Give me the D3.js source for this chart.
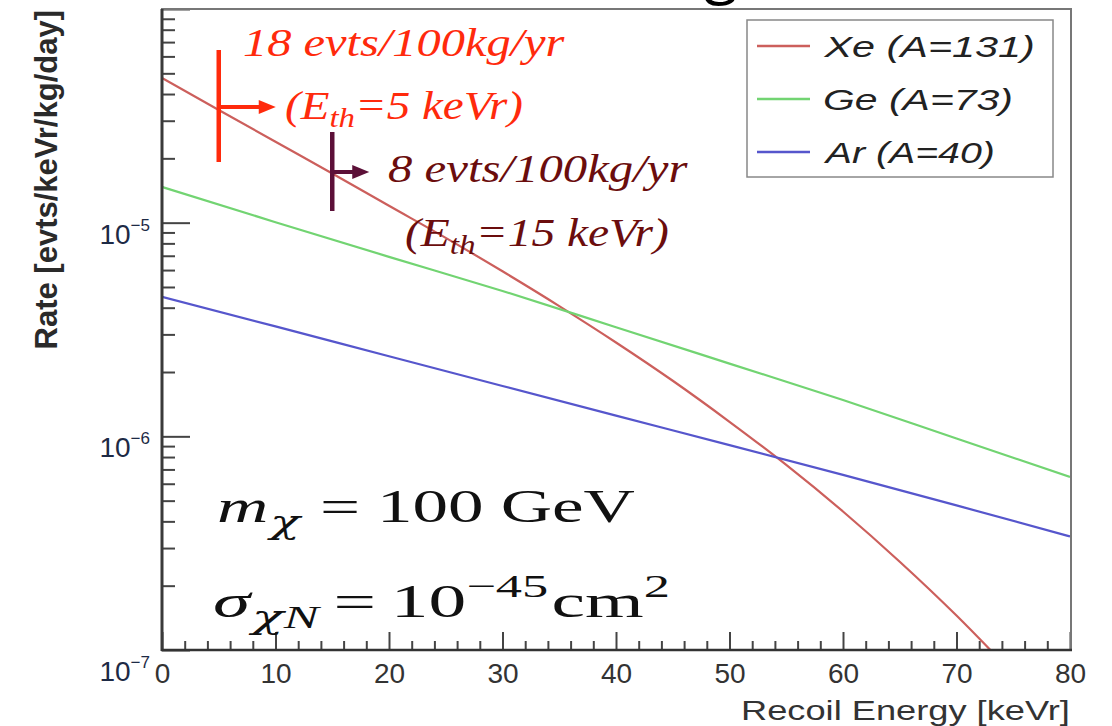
<!DOCTYPE html>
<html lang="en">
<head>
<meta charset="UTF-8">
<title>Recoil spectrum</title>
<script src="https://d3js.org/d3.v7.min.js"></script>
<style>
  body { margin: 0; background: #fff; }
  svg { display: block; }
</style>
</head>
<body>
<script>
// data
const xeEnergy = [0, 5, 10, 15, 20, 25, 30, 35, 40, 45, 50, 55, 60, 65, 70, 75];
const xeRate = [4.76e-5, 3.37e-5, 2.39e-5, 1.70e-5, 1.20e-5, 8.49e-6, 5.92e-6, 4.07e-6,
                2.75e-6, 1.82e-6, 1.17e-6, 7.35e-7, 4.45e-7, 2.59e-7, 1.45e-7, 7.74e-8];
const lightEnergy = [0, 10, 20, 30, 40, 50, 60, 70, 80];
const geRate = [1.47e-5, 1.005e-5, 6.92e-6, 4.79e-6, 3.24e-6, 2.19e-6, 1.48e-6, 9.77e-7, 6.46e-7];
const arRate = [4.5e-6, 3.27e-6, 2.37e-6, 1.72e-6, 1.25e-6, 9.1e-7, 6.6e-7, 4.75e-7, 3.4e-7];
const seriesNames = ["Xe (A=131)", "Ge (A=73)", "Ar (A=40)"];
const seriesColors = ["#cc5f5c", "#72d472", "#5656cc"];
const xTicks = [0, 10, 20, 30, 40, 50, 60, 70, 80];
const yDecades = [1e-7, 1e-6, 1e-5, 1e-4];
const yLabelExp = ["-7", "-6", "-5"];
const thresholds = [5, 15];

const W = 1112, H = 726;
const svg = d3.select("body").append("svg").attr("width", W).attr("height", H);
svg.append("rect").attr("width", W).attr("height", H).attr("fill", "#fff");

const x = d3.scaleLinear().domain([0, 80]).range([162, 1070]);
const y = d3.scaleLog().domain([1e-7, 1e-4]).range([650, 9]);

// stretch a text horizontally so its box runs from x0 over the given width
function fit(sel, x0, y0, width) {
  sel.attr("x", 0).attr("y", 0);
  const bb = sel.node().getBBox();
  const s = width / bb.width;
  sel.attr("transform", "translate(" + (x0 - bb.x * s) + "," + y0 + ") scale(" + s + ",1)");
}

// cut-off slide title above
svg.append("text").attr("x", 704).attr("y", -9)
  .style("font-family", "Open Sans").style("font-size", "62px").text("g");

svg.append("clipPath").attr("id", "plot")
  .append("rect").attr("x", 162).attr("y", 9).attr("width", 908).attr("height", 641);

// ticks
const minorX = d3.range(0, 81, 2).filter(d => d % 10 != 0);
const bottom = svg.append("g").attr("transform", "translate(0,650)");
bottom.call(d3.axisBottom(x).tickValues(minorX).tickSize(-9).tickFormat(""));
bottom.append("g").call(d3.axisBottom(x).tickValues(xTicks).tickSize(-18).tickPadding(13));
bottom.selectAll(".domain").remove();
bottom.selectAll("line").attr("stroke", "#444").attr("stroke-width", 2);
bottom.selectAll("text").attr("fill", "#333")
  .style("font-family", "Liberation Sans").style("font-size", "28px");

const minorY = [];
[1e-7, 1e-6, 1e-5].forEach(function (d) { for (let k = 2; k < 10; k++) minorY.push(d * k); });
const left = svg.append("g").attr("transform", "translate(162,0)");
left.call(d3.axisLeft(y).tickValues(minorY).tickSize(-13).tickFormat(""));
left.append("g").call(d3.axisLeft(y).tickValues(yDecades).tickSize(-28).tickFormat(""));
left.selectAll(".domain").remove();
left.selectAll("line").attr("stroke", "#444").attr("stroke-width", 2);

// decade labels
yDecades.slice(0, 3).forEach(function (d, i) {
  const t = svg.append("text").attr("x", 150).attr("y", y(d) + (i == 0 ? 31 : 21))
    .attr("text-anchor", "end").attr("fill", "#1d2a45")
    .style("font-family", "Liberation Sans").style("font-size", "28px");
  t.append("tspan").text("10");
  t.append("tspan").attr("dy", -13).style("font-size", "17px").text(yLabelExp[i].replace("-", "\u2212"));
});

// curves
const line = d3.line().x(d => x(d[0])).y(d => y(d[1])).curve(d3.curveMonotoneX);
const curves = [
  d3.zip(xeEnergy, xeRate),
  d3.zip(lightEnergy, geRate),
  d3.zip(lightEnergy, arRate)
];
svg.append("g").attr("clip-path", "url(#plot)")
  .selectAll("path").data(curves).join("path")
  .attr("d", line).attr("fill", "none")
  .attr("stroke", (d, i) => seriesColors[i]).attr("stroke-width", 2.2);

// frame
svg.append("rect").attr("x", 162).attr("y", 9).attr("width", 909).attr("height", 641)
  .attr("fill", "none").attr("stroke", "#777").attr("stroke-width", 2);
svg.append("line").attr("x1", 162).attr("x2", 162).attr("y1", 9).attr("y2", 651)
  .attr("stroke", "#3a3a3a").attr("stroke-width", 3);
svg.append("line").attr("x1", 161).attr("x2", 1072).attr("y1", 650).attr("y2", 650)
  .attr("stroke", "#333").attr("stroke-width", 2.5);

// axis titles
fit(svg.append("text").attr("fill", "#333").style("font-family", "Liberation Sans")
  .style("font-size", "28px").text("Recoil Energy [keVr]"), 741, 720, 329);
svg.append("text").attr("fill", "#2a2a2a").attr("text-anchor", "end")
  .style("font-family", "Liberation Sans").style("font-weight", "bold").style("font-size", "31px")
  .attr("transform", "translate(57,10) rotate(-90)").text("Rate [evts/keVr/kg/day]");

// legend
svg.append("rect").attr("x", 747).attr("y", 20).attr("width", 306).attr("height", 157)
  .attr("fill", "#fff").attr("stroke", "#888").attr("stroke-width", 1.5);
const legendW = [212, 190, 172];
seriesNames.forEach(function (name, i) {
  const ly = 46 + i * 53;
  svg.append("line").attr("x1", 757).attr("x2", 810).attr("y1", ly).attr("y2", ly)
    .attr("stroke", seriesColors[i]).attr("stroke-width", 2.5);
  fit(svg.append("text").attr("fill", "#222").style("font-family", "Liberation Sans")
    .style("font-style", "italic").style("font-size", "29px").text(name), 823, ly + 11, legendW[i]);
});

// threshold markers
const markColors = ["#ff2a0c", "#5c1038"];
const textColors = ["#ff2a0c", "#6b0d0d"];
const markSpan = [[50, 162, 107], [132, 211, 172]];
thresholds.forEach(function (e, i) {
  const mx = x(e), s = markSpan[i];
  const len = i == 0 ? 57 : 37;
  svg.append("line").attr("x1", mx).attr("x2", mx).attr("y1", s[0]).attr("y2", s[1])
    .attr("stroke", markColors[i]).attr("stroke-width", 4.5);
  svg.append("line").attr("x1", mx).attr("x2", mx + len - 12).attr("y1", s[2]).attr("y2", s[2])
    .attr("stroke", markColors[i]).attr("stroke-width", 4);
  svg.append("path")
    .attr("d", "M" + (mx + len) + "," + s[2] + "L" + (mx + len - 17) + "," + (s[2] - 7) +
      "L" + (mx + len - 17) + "," + (s[2] + 7) + "Z")
    .attr("fill", markColors[i]);
});

function serif(color) {
  return svg.append("text").attr("fill", color).style("font-family", "Liberation Serif")
    .style("font-style", "italic").style("font-size", "40px");
}
fit(serif(textColors[0]).text("18 evts/100kg/yr"), 243, 56, 322);
fit(serif(textColors[1]).text("8 evts/100kg/yr"), 388, 182, 300);
function eth(color, val, x0, y0, w) {
  const t = serif(color);
  t.append("tspan").text("(E");
  t.append("tspan").attr("dy", 8).style("font-size", "28px").text("th");
  t.append("tspan").attr("dy", -8).text("=" + val + " keVr)");
  fit(t, x0, y0, w);
}
eth(textColors[0], 5, 285, 119, 238);
eth(textColors[1], 15, 405, 246, 264);

// parameters: [text, italic, size, dy, dx, family]
function math(y0, x0, w, parts) {
  const t = svg.append("text").attr("fill", "#111")
    .style("font-family", "Liberation Serif").style("font-size", "46px");
  parts.forEach(function (p) {
    const s = t.append("tspan").text(p[0]);
    if (p[1]) s.style("font-style", "italic");
    if (p[2]) s.style("font-size", p[2] + "px");
    if (p[3]) s.attr("dy", p[3]);
    if (p[4]) s.attr("dx", p[4]);
    if (p[5]) s.style("font-family", p[5]);
  });
  fit(t, x0, y0, w);
}
math(522, 217, 418, [["m", 1], ["\u03c7", 1, 32, 11, 1, "DejaVu Serif"], ["=", 0, 46, -11, 13],
  ["100", 0, 0, 0, 11], ["GeV", 0, 0, 0, 11]]);
math(617, 213, 457, [["\u03c3", 1], ["\u03c7", 1, 32, 11, 1, "DejaVu Serif"], ["N", 1, 32], ["=", 0, 46, -11, 9],
  ["10", 0, 0, 0, 9], ["\u221245", 0, 32, -20], ["cm", 0, 46, 20, 2], ["2", 0, 32, -20]]);
</script>
</body>
</html>
